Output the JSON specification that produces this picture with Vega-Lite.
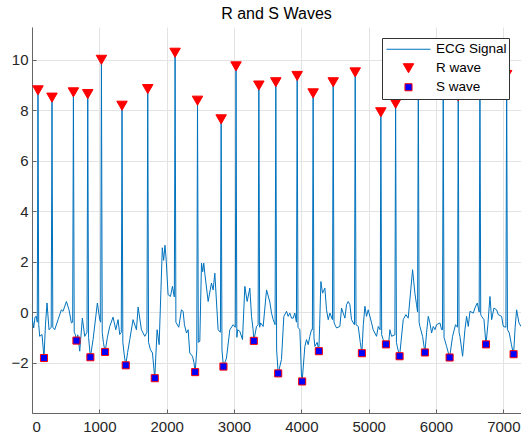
{
  "$schema": "https://vega.github.io/schema/vega-lite/v6.json",
  "autosize": {"type": "none"},
  "padding": {"left": 32, "top": 27, "right": 0, "bottom": 27},
  "width": 489,
  "height": 386,
  "background": "white",
  "title": {"text": "R and S Waves", "font": "Liberation Sans", "fontSize": 16, "fontWeight": "normal", "color": "#000000", "offset": 5},
  "config": {
    "view": {"stroke": null},
    "axis": {
      "labelFont": "Liberation Sans", "labelFontSize": 15, "labelColor": "#262626",
      "domainColor": "#666666", "domainWidth": 1,
      "gridColor": "#e3e3e3", "gridWidth": 1,
      "tickColor": "#666666", "tickSize": -4,
      "title": null
    },
    "legend": {
      "labelFont": "Liberation Sans", "labelFontSize": 13.5, "labelColor": "#000000"
    }
  },
  "datasets": {
    "ecg": [
      {"t": 0, "v": -0.2, "series": "ECG Signal"},
      {"t": 25, "v": -0.63, "series": "ECG Signal"},
      {"t": 45, "v": -0.2, "series": "ECG Signal"},
      {"t": 65, "v": -0.17, "series": "ECG Signal"},
      {"t": 78, "v": -0.4, "series": "ECG Signal"},
      {"t": 89, "v": 8.79, "series": "ECG Signal"},
      {"t": 100, "v": -0.5, "series": "ECG Signal"},
      {"t": 114, "v": -0.96, "series": "ECG Signal"},
      {"t": 149, "v": -0.89, "series": "ECG Signal"},
      {"t": 178, "v": -1.82, "series": "ECG Signal"},
      {"t": 200, "v": -0.5, "series": "ECG Signal"},
      {"t": 223, "v": 0.36, "series": "ECG Signal"},
      {"t": 253, "v": -0.7, "series": "ECG Signal"},
      {"t": 285, "v": -0.6, "series": "ECG Signal"},
      {"t": 297, "v": 8.5, "series": "ECG Signal"},
      {"t": 309, "v": -0.6, "series": "ECG Signal"},
      {"t": 337, "v": -0.7, "series": "ECG Signal"},
      {"t": 387, "v": -0.3, "series": "ECG Signal"},
      {"t": 436, "v": 0.09, "series": "ECG Signal"},
      {"t": 461, "v": 0.03, "series": "ECG Signal"},
      {"t": 511, "v": 0.42, "series": "ECG Signal"},
      {"t": 550, "v": 0.09, "series": "ECG Signal"},
      {"t": 585, "v": -0.43, "series": "ECG Signal"},
      {"t": 604, "v": -0.4, "series": "ECG Signal"},
      {"t": 615, "v": 8.71, "series": "ECG Signal"},
      {"t": 627, "v": -0.8, "series": "ECG Signal"},
      {"t": 645, "v": -0.9, "series": "ECG Signal"},
      {"t": 660, "v": -1.13, "series": "ECG Signal"},
      {"t": 680, "v": -0.9, "series": "ECG Signal"},
      {"t": 709, "v": -1.55, "series": "ECG Signal"},
      {"t": 748, "v": -0.24, "series": "ECG Signal"},
      {"t": 783, "v": -0.96, "series": "ECG Signal"},
      {"t": 817, "v": -0.8, "series": "ECG Signal"},
      {"t": 828, "v": 8.64, "series": "ECG Signal"},
      {"t": 840, "v": -1.0, "series": "ECG Signal"},
      {"t": 867, "v": -1.79, "series": "ECG Signal"},
      {"t": 907, "v": -1.09, "series": "ECG Signal"},
      {"t": 971, "v": 0.36, "series": "ECG Signal"},
      {"t": 1006, "v": -0.3, "series": "ECG Signal"},
      {"t": 1020, "v": -0.4, "series": "ECG Signal"},
      {"t": 1031, "v": 10.0, "series": "ECG Signal"},
      {"t": 1043, "v": -0.8, "series": "ECG Signal"},
      {"t": 1060, "v": -1.2, "series": "ECG Signal"},
      {"t": 1085, "v": -1.58, "series": "ECG Signal"},
      {"t": 1120, "v": -1.0, "series": "ECG Signal"},
      {"t": 1154, "v": -0.57, "series": "ECG Signal"},
      {"t": 1204, "v": -0.2, "series": "ECG Signal"},
      {"t": 1244, "v": -0.7, "series": "ECG Signal"},
      {"t": 1278, "v": -0.3, "series": "ECG Signal"},
      {"t": 1303, "v": -0.89, "series": "ECG Signal"},
      {"t": 1326, "v": -0.8, "series": "ECG Signal"},
      {"t": 1337, "v": 8.18, "series": "ECG Signal"},
      {"t": 1349, "v": -1.2, "series": "ECG Signal"},
      {"t": 1370, "v": -1.7, "series": "ECG Signal"},
      {"t": 1392, "v": -2.11, "series": "ECG Signal"},
      {"t": 1420, "v": -1.6, "series": "ECG Signal"},
      {"t": 1452, "v": -1.09, "series": "ECG Signal"},
      {"t": 1501, "v": -0.3, "series": "ECG Signal"},
      {"t": 1551, "v": -0.7, "series": "ECG Signal"},
      {"t": 1576, "v": 0.2, "series": "ECG Signal"},
      {"t": 1625, "v": -0.7, "series": "ECG Signal"},
      {"t": 1675, "v": -0.96, "series": "ECG Signal"},
      {"t": 1707, "v": -0.8, "series": "ECG Signal"},
      {"t": 1719, "v": 8.84, "series": "ECG Signal"},
      {"t": 1731, "v": -1.2, "series": "ECG Signal"},
      {"t": 1759, "v": -1.49, "series": "ECG Signal"},
      {"t": 1789, "v": -1.62, "series": "ECG Signal"},
      {"t": 1823, "v": -2.62, "series": "ECG Signal"},
      {"t": 1858, "v": -0.7, "series": "ECG Signal"},
      {"t": 1888, "v": -1.29, "series": "ECG Signal"},
      {"t": 1915, "v": 0.88, "series": "ECG Signal"},
      {"t": 1935, "v": 2.55, "series": "ECG Signal"},
      {"t": 1955, "v": 2.05, "series": "ECG Signal"},
      {"t": 1975, "v": 2.65, "series": "ECG Signal"},
      {"t": 1992, "v": 2.1, "series": "ECG Signal"},
      {"t": 2021, "v": 0.69, "series": "ECG Signal"},
      {"t": 2056, "v": 0.62, "series": "ECG Signal"},
      {"t": 2086, "v": 1.02, "series": "ECG Signal"},
      {"t": 2106, "v": 0.69, "series": "ECG Signal"},
      {"t": 2114, "v": 0.6, "series": "ECG Signal"},
      {"t": 2125, "v": 10.28, "series": "ECG Signal"},
      {"t": 2137, "v": -0.4, "series": "ECG Signal"},
      {"t": 2180, "v": -0.6, "series": "ECG Signal"},
      {"t": 2219, "v": 0.09, "series": "ECG Signal"},
      {"t": 2244, "v": 0.03, "series": "ECG Signal"},
      {"t": 2264, "v": -0.5, "series": "ECG Signal"},
      {"t": 2294, "v": -0.83, "series": "ECG Signal"},
      {"t": 2319, "v": -0.7, "series": "ECG Signal"},
      {"t": 2343, "v": -1.62, "series": "ECG Signal"},
      {"t": 2383, "v": -1.75, "series": "ECG Signal"},
      {"t": 2405, "v": -2.0, "series": "ECG Signal"},
      {"t": 2423, "v": -2.38, "series": "ECG Signal"},
      {"t": 2447, "v": -1.5, "series": "ECG Signal"},
      {"t": 2458, "v": 8.38, "series": "ECG Signal"},
      {"t": 2470, "v": -1.2, "series": "ECG Signal"},
      {"t": 2492, "v": -1.16, "series": "ECG Signal"},
      {"t": 2517, "v": 1.94, "series": "ECG Signal"},
      {"t": 2535, "v": 1.6, "series": "ECG Signal"},
      {"t": 2551, "v": 1.94, "series": "ECG Signal"},
      {"t": 2566, "v": 1.54, "series": "ECG Signal"},
      {"t": 2616, "v": 0.42, "series": "ECG Signal"},
      {"t": 2665, "v": 1.15, "series": "ECG Signal"},
      {"t": 2690, "v": 0.88, "series": "ECG Signal"},
      {"t": 2715, "v": 1.54, "series": "ECG Signal"},
      {"t": 2764, "v": -0.7, "series": "ECG Signal"},
      {"t": 2798, "v": -0.8, "series": "ECG Signal"},
      {"t": 2809, "v": 7.64, "series": "ECG Signal"},
      {"t": 2821, "v": -1.5, "series": "ECG Signal"},
      {"t": 2843, "v": -2.16, "series": "ECG Signal"},
      {"t": 2888, "v": -1.82, "series": "ECG Signal"},
      {"t": 2938, "v": -0.7, "series": "ECG Signal"},
      {"t": 2987, "v": -0.5, "series": "ECG Signal"},
      {"t": 3019, "v": -0.6, "series": "ECG Signal"},
      {"t": 3030, "v": 9.74, "series": "ECG Signal"},
      {"t": 3042, "v": -1.0, "series": "ECG Signal"},
      {"t": 3055, "v": -0.7, "series": "ECG Signal"},
      {"t": 3086, "v": -0.76, "series": "ECG Signal"},
      {"t": 3126, "v": -1.09, "series": "ECG Signal"},
      {"t": 3161, "v": 1.02, "series": "ECG Signal"},
      {"t": 3195, "v": 0.42, "series": "ECG Signal"},
      {"t": 3235, "v": 0.95, "series": "ECG Signal"},
      {"t": 3260, "v": -0.17, "series": "ECG Signal"},
      {"t": 3284, "v": -0.7, "series": "ECG Signal"},
      {"t": 3294, "v": -1.14, "series": "ECG Signal"},
      {"t": 3334, "v": -0.57, "series": "ECG Signal"},
      {"t": 3358, "v": -0.5, "series": "ECG Signal"},
      {"t": 3369, "v": 8.98, "series": "ECG Signal"},
      {"t": 3381, "v": -0.6, "series": "ECG Signal"},
      {"t": 3395, "v": -0.43, "series": "ECG Signal"},
      {"t": 3433, "v": -0.57, "series": "ECG Signal"},
      {"t": 3483, "v": 0.88, "series": "ECG Signal"},
      {"t": 3532, "v": 0.4, "series": "ECG Signal"},
      {"t": 3557, "v": -0.04, "series": "ECG Signal"},
      {"t": 3582, "v": -0.3, "series": "ECG Signal"},
      {"t": 3610, "v": -0.5, "series": "ECG Signal"},
      {"t": 3621, "v": 9.11, "series": "ECG Signal"},
      {"t": 3633, "v": -1.5, "series": "ECG Signal"},
      {"t": 3656, "v": -2.43, "series": "ECG Signal"},
      {"t": 3705, "v": -1.88, "series": "ECG Signal"},
      {"t": 3740, "v": -0.17, "series": "ECG Signal"},
      {"t": 3780, "v": 0.03, "series": "ECG Signal"},
      {"t": 3804, "v": -0.17, "series": "ECG Signal"},
      {"t": 3829, "v": -0.04, "series": "ECG Signal"},
      {"t": 3854, "v": -0.24, "series": "ECG Signal"},
      {"t": 3879, "v": -0.24, "series": "ECG Signal"},
      {"t": 3903, "v": -0.04, "series": "ECG Signal"},
      {"t": 3927, "v": -0.4, "series": "ECG Signal"},
      {"t": 3938, "v": 9.36, "series": "ECG Signal"},
      {"t": 3950, "v": -0.6, "series": "ECG Signal"},
      {"t": 3978, "v": -0.7, "series": "ECG Signal"},
      {"t": 4002, "v": -2.54, "series": "ECG Signal"},
      {"t": 4012, "v": -2.75, "series": "ECG Signal"},
      {"t": 4052, "v": -1.36, "series": "ECG Signal"},
      {"t": 4077, "v": -1.09, "series": "ECG Signal"},
      {"t": 4102, "v": -1.29, "series": "ECG Signal"},
      {"t": 4126, "v": -0.96, "series": "ECG Signal"},
      {"t": 4151, "v": -0.7, "series": "ECG Signal"},
      {"t": 4164, "v": -0.7, "series": "ECG Signal"},
      {"t": 4175, "v": 8.67, "series": "ECG Signal"},
      {"t": 4187, "v": -1.0, "series": "ECG Signal"},
      {"t": 4201, "v": -1.36, "series": "ECG Signal"},
      {"t": 4235, "v": -1.2, "series": "ECG Signal"},
      {"t": 4260, "v": -1.55, "series": "ECG Signal"},
      {"t": 4272, "v": -0.5, "series": "ECG Signal"},
      {"t": 4290, "v": 1.21, "series": "ECG Signal"},
      {"t": 4315, "v": 0.75, "series": "ECG Signal"},
      {"t": 4349, "v": 0.95, "series": "ECG Signal"},
      {"t": 4374, "v": 0.09, "series": "ECG Signal"},
      {"t": 4399, "v": -0.3, "series": "ECG Signal"},
      {"t": 4424, "v": -0.04, "series": "ECG Signal"},
      {"t": 4462, "v": -0.3, "series": "ECG Signal"},
      {"t": 4473, "v": 9.11, "series": "ECG Signal"},
      {"t": 4485, "v": -0.4, "series": "ECG Signal"},
      {"t": 4498, "v": -0.5, "series": "ECG Signal"},
      {"t": 4523, "v": -0.63, "series": "ECG Signal"},
      {"t": 4572, "v": -0.57, "series": "ECG Signal"},
      {"t": 4597, "v": 0.16, "series": "ECG Signal"},
      {"t": 4622, "v": -0.04, "series": "ECG Signal"},
      {"t": 4647, "v": -0.24, "series": "ECG Signal"},
      {"t": 4671, "v": 0.29, "series": "ECG Signal"},
      {"t": 4696, "v": 0.42, "series": "ECG Signal"},
      {"t": 4721, "v": 0.29, "series": "ECG Signal"},
      {"t": 4745, "v": -0.3, "series": "ECG Signal"},
      {"t": 4789, "v": -0.5, "series": "ECG Signal"},
      {"t": 4800, "v": 9.5, "series": "ECG Signal"},
      {"t": 4812, "v": -0.5, "series": "ECG Signal"},
      {"t": 4845, "v": -0.57, "series": "ECG Signal"},
      {"t": 4875, "v": -1.2, "series": "ECG Signal"},
      {"t": 4899, "v": -1.63, "series": "ECG Signal"},
      {"t": 4920, "v": -0.5, "series": "ECG Signal"},
      {"t": 4944, "v": 0.23, "series": "ECG Signal"},
      {"t": 4968, "v": -0.17, "series": "ECG Signal"},
      {"t": 4993, "v": 0.09, "series": "ECG Signal"},
      {"t": 5043, "v": -0.43, "series": "ECG Signal"},
      {"t": 5067, "v": -0.7, "series": "ECG Signal"},
      {"t": 5117, "v": -0.96, "series": "ECG Signal"},
      {"t": 5142, "v": -0.57, "series": "ECG Signal"},
      {"t": 5170, "v": -0.7, "series": "ECG Signal"},
      {"t": 5181, "v": 7.92, "series": "ECG Signal"},
      {"t": 5193, "v": -0.9, "series": "ECG Signal"},
      {"t": 5216, "v": -1.09, "series": "ECG Signal"},
      {"t": 5256, "v": -1.28, "series": "ECG Signal"},
      {"t": 5290, "v": -1.42, "series": "ECG Signal"},
      {"t": 5315, "v": -0.7, "series": "ECG Signal"},
      {"t": 5340, "v": -0.96, "series": "ECG Signal"},
      {"t": 5389, "v": -0.9, "series": "ECG Signal"},
      {"t": 5400, "v": 8.26, "series": "ECG Signal"},
      {"t": 5412, "v": -1.2, "series": "ECG Signal"},
      {"t": 5424, "v": -1.36, "series": "ECG Signal"},
      {"t": 5459, "v": -1.75, "series": "ECG Signal"},
      {"t": 5513, "v": -0.3, "series": "ECG Signal"},
      {"t": 5553, "v": -0.1, "series": "ECG Signal"},
      {"t": 5587, "v": -0.24, "series": "ECG Signal"},
      {"t": 5652, "v": 1.68, "series": "ECG Signal"},
      {"t": 5686, "v": 0.75, "series": "ECG Signal"},
      {"t": 5711, "v": 0.29, "series": "ECG Signal"},
      {"t": 5726, "v": 0.0, "series": "ECG Signal"},
      {"t": 5737, "v": 9.2, "series": "ECG Signal"},
      {"t": 5749, "v": -0.4, "series": "ECG Signal"},
      {"t": 5761, "v": -0.57, "series": "ECG Signal"},
      {"t": 5800, "v": -0.96, "series": "ECG Signal"},
      {"t": 5835, "v": -1.6, "series": "ECG Signal"},
      {"t": 5860, "v": -0.8, "series": "ECG Signal"},
      {"t": 5885, "v": -0.17, "series": "ECG Signal"},
      {"t": 5909, "v": -0.43, "series": "ECG Signal"},
      {"t": 5934, "v": -0.83, "series": "ECG Signal"},
      {"t": 5959, "v": -0.57, "series": "ECG Signal"},
      {"t": 5984, "v": -0.7, "series": "ECG Signal"},
      {"t": 6008, "v": -0.5, "series": "ECG Signal"},
      {"t": 6058, "v": -0.43, "series": "ECG Signal"},
      {"t": 6083, "v": -0.7, "series": "ECG Signal"},
      {"t": 6096, "v": -0.7, "series": "ECG Signal"},
      {"t": 6107, "v": 9.0, "series": "ECG Signal"},
      {"t": 6119, "v": -1.0, "series": "ECG Signal"},
      {"t": 6157, "v": -1.36, "series": "ECG Signal"},
      {"t": 6202, "v": -1.8, "series": "ECG Signal"},
      {"t": 6246, "v": -0.96, "series": "ECG Signal"},
      {"t": 6290, "v": -0.5, "series": "ECG Signal"},
      {"t": 6319, "v": -0.6, "series": "ECG Signal"},
      {"t": 6330, "v": 8.55, "series": "ECG Signal"},
      {"t": 6342, "v": -0.8, "series": "ECG Signal"},
      {"t": 6355, "v": -0.96, "series": "ECG Signal"},
      {"t": 6395, "v": -1.75, "series": "ECG Signal"},
      {"t": 6429, "v": -0.7, "series": "ECG Signal"},
      {"t": 6454, "v": -0.17, "series": "ECG Signal"},
      {"t": 6479, "v": -0.57, "series": "ECG Signal"},
      {"t": 6504, "v": 0.03, "series": "ECG Signal"},
      {"t": 6553, "v": -0.04, "series": "ECG Signal"},
      {"t": 6578, "v": 0.16, "series": "ECG Signal"},
      {"t": 6613, "v": 0.36, "series": "ECG Signal"},
      {"t": 6641, "v": 0.0, "series": "ECG Signal"},
      {"t": 6652, "v": 9.3, "series": "ECG Signal"},
      {"t": 6664, "v": -0.1, "series": "ECG Signal"},
      {"t": 6677, "v": -0.17, "series": "ECG Signal"},
      {"t": 6712, "v": -0.3, "series": "ECG Signal"},
      {"t": 6742, "v": -1.28, "series": "ECG Signal"},
      {"t": 6770, "v": -0.5, "series": "ECG Signal"},
      {"t": 6801, "v": 0.62, "series": "ECG Signal"},
      {"t": 6826, "v": -0.3, "series": "ECG Signal"},
      {"t": 6860, "v": 0.16, "series": "ECG Signal"},
      {"t": 6900, "v": 0.09, "series": "ECG Signal"},
      {"t": 6925, "v": -0.1, "series": "ECG Signal"},
      {"t": 6974, "v": -0.17, "series": "ECG Signal"},
      {"t": 6999, "v": -0.57, "series": "ECG Signal"},
      {"t": 7038, "v": -0.6, "series": "ECG Signal"},
      {"t": 7049, "v": 9.4, "series": "ECG Signal"},
      {"t": 7061, "v": -0.7, "series": "ECG Signal"},
      {"t": 7088, "v": -0.83, "series": "ECG Signal"},
      {"t": 7120, "v": -1.3, "series": "ECG Signal"},
      {"t": 7152, "v": -1.67, "series": "ECG Signal"},
      {"t": 7175, "v": -0.6, "series": "ECG Signal"},
      {"t": 7197, "v": 0.09, "series": "ECG Signal"},
      {"t": 7232, "v": -0.43, "series": "ECG Signal"},
      {"t": 7262, "v": -0.57, "series": "ECG Signal"}
    ],
    "markers": [
      {"t": 89, "v": 8.79, "series": "R wave"},
      {"t": 297, "v": 8.5, "series": "R wave"},
      {"t": 615, "v": 8.71, "series": "R wave"},
      {"t": 828, "v": 8.64, "series": "R wave"},
      {"t": 1031, "v": 10.0, "series": "R wave"},
      {"t": 1337, "v": 8.18, "series": "R wave"},
      {"t": 1719, "v": 8.84, "series": "R wave"},
      {"t": 2125, "v": 10.28, "series": "R wave"},
      {"t": 2458, "v": 8.38, "series": "R wave"},
      {"t": 2809, "v": 7.64, "series": "R wave"},
      {"t": 3030, "v": 9.74, "series": "R wave"},
      {"t": 3369, "v": 8.98, "series": "R wave"},
      {"t": 3621, "v": 9.11, "series": "R wave"},
      {"t": 3938, "v": 9.36, "series": "R wave"},
      {"t": 4175, "v": 8.67, "series": "R wave"},
      {"t": 4473, "v": 9.11, "series": "R wave"},
      {"t": 4800, "v": 9.5, "series": "R wave"},
      {"t": 5181, "v": 7.92, "series": "R wave"},
      {"t": 5400, "v": 8.26, "series": "R wave"},
      {"t": 5737, "v": 9.2, "series": "R wave"},
      {"t": 6107, "v": 9.0, "series": "R wave"},
      {"t": 6330, "v": 8.55, "series": "R wave"},
      {"t": 6652, "v": 9.3, "series": "R wave"},
      {"t": 7049, "v": 9.4, "series": "R wave"},
      {"t": 178, "v": -1.82, "series": "S wave"},
      {"t": 660, "v": -1.13, "series": "S wave"},
      {"t": 867, "v": -1.79, "series": "S wave"},
      {"t": 1085, "v": -1.58, "series": "S wave"},
      {"t": 1392, "v": -2.11, "series": "S wave"},
      {"t": 1823, "v": -2.62, "series": "S wave"},
      {"t": 2423, "v": -2.38, "series": "S wave"},
      {"t": 2843, "v": -2.16, "series": "S wave"},
      {"t": 3294, "v": -1.14, "series": "S wave"},
      {"t": 3656, "v": -2.43, "series": "S wave"},
      {"t": 4012, "v": -2.75, "series": "S wave"},
      {"t": 4260, "v": -1.55, "series": "S wave"},
      {"t": 4899, "v": -1.63, "series": "S wave"},
      {"t": 5256, "v": -1.28, "series": "S wave"},
      {"t": 5459, "v": -1.75, "series": "S wave"},
      {"t": 5835, "v": -1.6, "series": "S wave"},
      {"t": 6202, "v": -1.8, "series": "S wave"},
      {"t": 6742, "v": -1.28, "series": "S wave"},
      {"t": 7152, "v": -1.67, "series": "S wave"}
    ]
  },
  "encoding": {
    "x": {"field": "t", "type": "quantitative",
          "scale": {"domain": [0, 7262], "nice": false, "zero": false},
          "axis": {"values": [0, 1000, 2000, 3000, 4000, 5000, 6000, 7000], "format": "d", "grid": true, "labelPadding": 10}},
    "y": {"field": "v", "type": "quantitative",
          "scale": {"domain": [-4, 11.3], "nice": false, "zero": false},
          "axis": {"values": [-2, 0, 2, 4, 6, 8, 10], "format": "d", "grid": true, "labelPadding": 8}}
  },
  "layer": [
    {
      "data": {"name": "ecg"},
      "mark": {"type": "line", "strokeWidth": 1, "clip": true},
      "encoding": {
        "stroke": {"field": "series", "type": "nominal",
          "scale": {"domain": ["ECG Signal", "R wave", "S wave"], "range": ["#0072BD", "#FF0000", "#FF0000"]},
          "legend": {"orient": "none", "legendX": 350, "legendY": 11, "title": null,
                     "fillColor": "white", "strokeColor": "#333333", "padding": 2,
                     "clipHeight": 18.5, "rowPadding": 0, "symbolOffset": 2,
                     "symbolStrokeWidth": 1, "labelOffset": 5}}
      }
    },
    {
      "data": {"name": "markers"},
      "mark": {"type": "point", "filled": true, "opacity": 1, "strokeWidth": 1},
      "encoding": {
        "fill": {"field": "series", "type": "nominal",
          "scale": {"domain": ["ECG Signal", "R wave", "S wave"], "range": ["transparent", "#FF0000", "#0000FF"]}},
        "stroke": {"field": "series", "type": "nominal"},
        "shape": {"field": "series", "type": "nominal",
          "scale": {"domain": ["ECG Signal", "R wave", "S wave"], "range": ["stroke", "triangle-down", "square"]}},
        "size": {"field": "series", "type": "nominal",
          "scale": {"type": "ordinal", "domain": ["ECG Signal", "R wave", "S wave"], "range": [1936, 110, 50]}}
      }
    }
  ]
}
